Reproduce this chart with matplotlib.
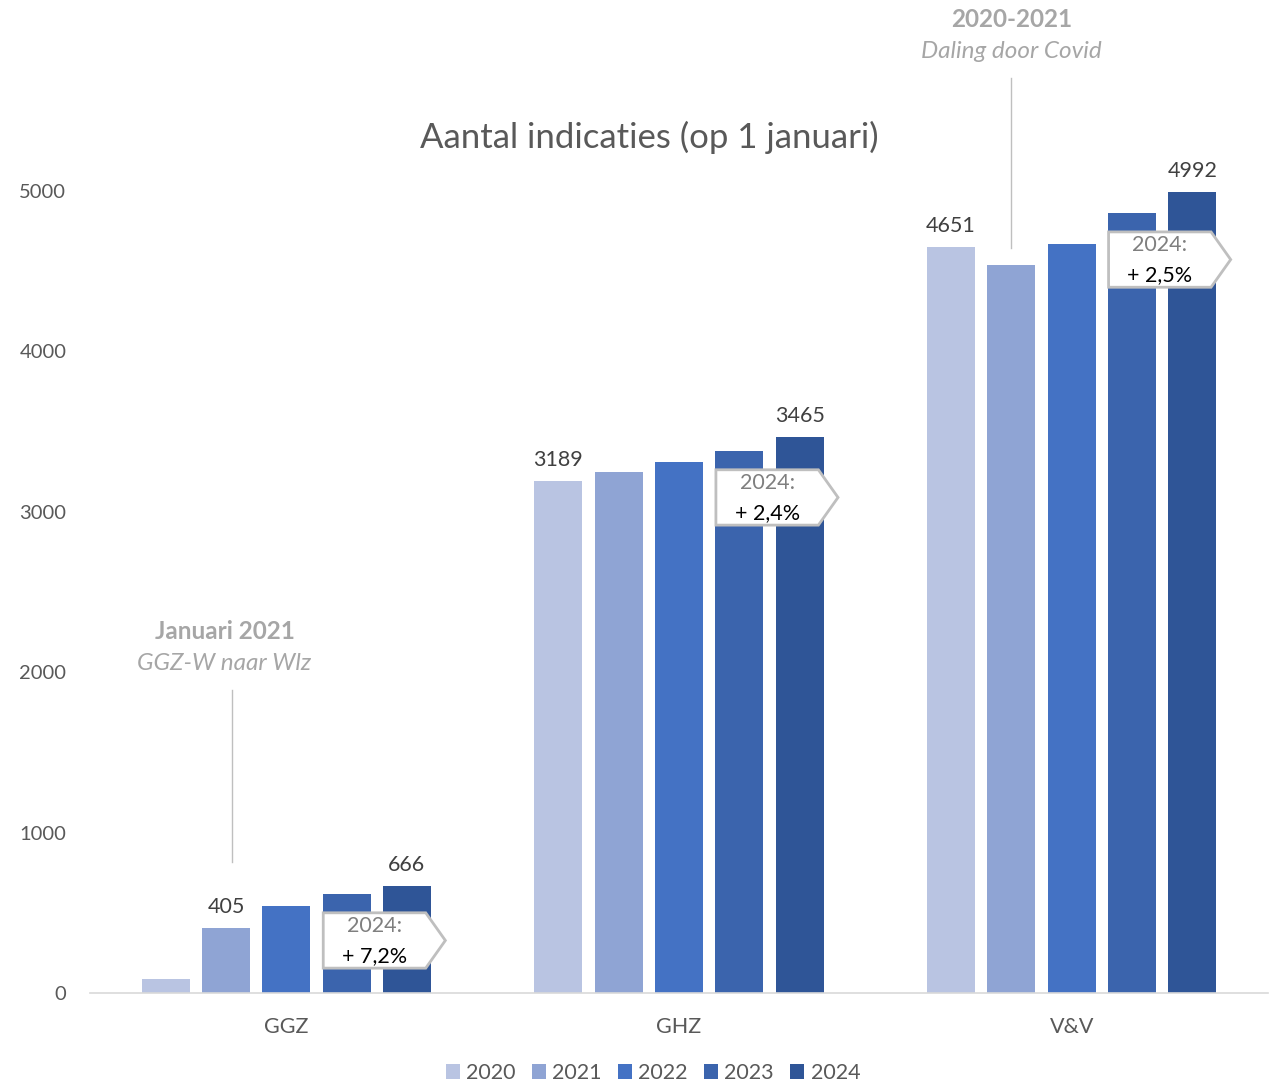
import numpy as np
import matplotlib.pyplot as plt
from matplotlib.patches import Polygon

plt.rcParams['font.family'] = ['Lato', 'DejaVu Sans']

categories = ["GGZ", "GHZ", "V&V"]
years = ["2020", "2021", "2022", "2023", "2024"]
ggz = [90, 405, 545, 620, 666]
ghz = [3189, 3250, 3310, 3380, 3465]
vv = [4651, 4540, 4670, 4865, 4992]
growth = ["+ 7,2%", "+ 2,4%", "+ 2,5%"]
labelled = [[1, 4], [0, 4], [0, 4]]  # bars with a value label per group

colors = ["#B9C4E2", "#8FA4D4", "#4472C4", "#3B64AD", "#2F5597"]
grey = "#595959"
note_grey = "#A6A6A6"

values = np.array([ggz, ghz, vv])
x = np.arange(len(categories))
step = 0.1535
width = 0.122

fig = plt.figure(figsize=(12.69, 10.86), dpi=100)
ax = fig.add_axes([90 / 1269, 1 - 993 / 1086, 1178 / 1269, 802 / 1086])

bars = []
for j, year in enumerate(years):
    b = ax.bar(x + (j - 2) * step, values[:, j], width, color=colors[j], label=year, zorder=2)
    bars.append(b)

for i in range(len(categories)):
    for j in labelled[i]:
        ax.annotate(str(values[i, j]), (x[i] + (j - 2) * step, values[i, j]),
                    xytext=(0, 8), textcoords="offset points", ha="center", va="bottom",
                    fontsize=15.5, color="#404040", annotation_clip=False)

# callouts "2024: + x%"
callout_top = [500, 3262, 4745]
callout_h = 345
for i in range(len(categories)):
    left = x[i] + 0.094
    body = x[i] + 0.355
    tip = x[i] + 0.405
    top = callout_top[i]
    bot = top - callout_h
    mid = (top + bot) / 2
    poly = Polygon([(left, top), (body, top), (tip, mid), (body, bot), (left, bot)],
                   closed=True, facecolor="white", edgecolor="#BFBFBF", lw=2, zorder=4,
                   clip_on=False)
    ax.add_patch(poly)
    cx = (left + body) / 2
    ax.text(cx, mid + 88, "2024:", ha="center", va="center", fontsize=15.5,
            color="#7F7F7F", zorder=5)
    ax.text(cx, mid - 95, growth[i], ha="center", va="center", fontsize=15.5,
            color="black", zorder=5)

# notes with leader lines
ggz_x = x[0] - step + 0.014
ax.plot([ggz_x, ggz_x], [817, 1890], color="#BFBFBF", lw=1, zorder=1)
ax.text(ggz_x - 0.018, 2253, "Januari 2021", ha="center", va="center", fontsize=17.5,
        fontweight="bold", color=note_grey)
ax.text(ggz_x - 0.018, 2053, "GGZ-W naar Wlz", ha="center", va="center", fontsize=17.5,
        style="italic", color=note_grey)

vv_x = x[2] - step
ax.plot([vv_x, vv_x], [4645, 5705], color="#BFBFBF", lw=1, zorder=1, clip_on=False)
ax.text(vv_x, 6072, "2020-2021", ha="center", va="center", fontsize=17.5,
        fontweight="bold", color=note_grey)
ax.text(vv_x, 5872, "Daling door Covid", ha="center", va="center", fontsize=17.5,
        style="italic", color=note_grey)

ax.set_xlim(-0.5, 2.5)
ax.set_ylim(0, 5000)
ax.set_yticks([0, 1000, 2000, 3000, 4000, 5000])
ax.set_xticks(x)
ax.set_xticklabels(categories)
ax.tick_params(axis="y", length=0, pad=17, labelsize=14.5, labelcolor=grey)
ax.tick_params(axis="x", length=0, pad=17, labelsize=15.5, labelcolor=grey)
for s in ["top", "right", "left"]:
    ax.spines[s].set_visible(False)
ax.spines["bottom"].set_color("#D9D9D9")
ax.spines["bottom"].set_linewidth(1.2)

fig.text(649 / 1269, 1 - 137 / 1086, "Aantal indicaties (op 1 januari)", ha="center",
         va="center", fontsize=25, color=grey)

fig.legend(handles=bars, labels=years, loc="lower center", ncol=5,
           bbox_to_anchor=(653 / 1269, -0.015), frameon=False, fontsize=15.5,
           handlelength=0.65, handleheight=0.65, handletextpad=0.3, columnspacing=0.75,
           labelcolor=grey)

fig.savefig("out.png", dpi=100)
